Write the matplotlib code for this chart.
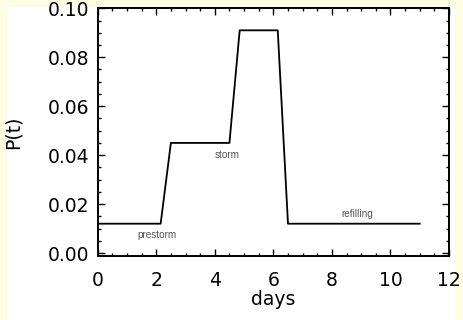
import matplotlib
matplotlib.use("Agg")
import matplotlib.pyplot as plt
from matplotlib.patches import Rectangle
from matplotlib.ticker import MultipleLocator, FormatStrFormatter

# data
days = [0.0, 2.15, 2.5, 4.5, 4.85, 6.15, 6.5, 11.0]
p_t = [0.012, 0.012, 0.045, 0.045, 0.091, 0.091, 0.012, 0.012]
phase_labels = ["prestorm", "storm", "refilling"]
phase_x = [2.04, 4.43, 8.88]
phase_y = [0.0075, 0.0401, 0.0159]

plt.rcParams['font.family'] = ['DejaVu Sans']

fig = plt.figure(figsize=(4.63, 3.2), dpi=100)
fig.patch.set_facecolor('#fdfde3')
fig.patches.append(Rectangle((7/463, 0), (455-7)/463, (320-7)/320,
                             transform=fig.transFigure, facecolor='white',
                             edgecolor='none', zorder=-10))

ax = fig.add_axes([97.7/463, 64/320, (449-97.7)/463, (256-8.3)/320])
ax.set_facecolor('white')
ax.plot(days, p_t, color='black', lw=1.3)
for t, x, y in zip(phase_labels, phase_x, phase_y):
    ax.text(x, y, t, ha='center', va='center', fontsize=7.2, color='#555555',
            family=['Liberation Sans', 'DejaVu Sans'])

ax.set_xlim(0, 12)
ax.set_ylim(-0.0012, 0.1)
ax.xaxis.set_major_locator(MultipleLocator(2))
ax.xaxis.set_minor_locator(MultipleLocator(0.5))
ax.yaxis.set_major_locator(MultipleLocator(0.02))
ax.yaxis.set_minor_locator(MultipleLocator(0.005))
ax.yaxis.set_major_formatter(FormatStrFormatter('%.2f'))
ax.tick_params(which='both', direction='in', top=True, right=True,
               labelsize=13.5, color='black')
ax.tick_params(which='major', length=5, width=1)
ax.tick_params(which='minor', length=2.5, width=1)
ax.tick_params(axis='x', which='major', pad=10.5)
ax.tick_params(axis='y', which='major', pad=6)
for s in ax.spines.values():
    s.set_linewidth(1.4)
ax.set_xlabel('days', fontsize=13.5, labelpad=0.5)
ax.set_ylabel('P(t)', fontsize=13.5, labelpad=18)

fig.savefig('out.png', dpi=100, facecolor=fig.get_facecolor())
